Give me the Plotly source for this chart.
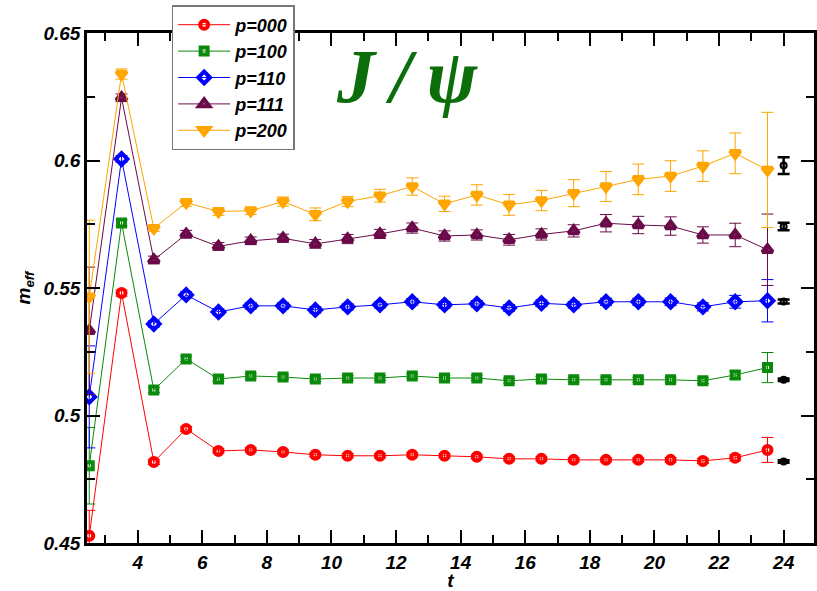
import plotly.graph_objects as go

# Effective mass of J/psi versus Euclidean time for several momenta
t = [2.5, 3.5, 4.5, 5.5, 6.5, 7.5, 8.5, 9.5, 10.5, 11.5, 12.5,
     13.5, 14.5, 15.5, 16.5, 17.5, 18.5, 19.5, 20.5, 21.5, 22.5, 23.5]

m_000 = [0.4528, 0.5480, 0.4818, 0.4947, 0.4861, 0.4865, 0.4857, 0.4846, 0.4842, 0.4842, 0.4846,
         0.4842, 0.4838, 0.4830, 0.4830, 0.4826, 0.4826, 0.4826, 0.4826, 0.4822, 0.4834, 0.4865]
e_000 = [0.0100, 0.0012, 0.0010, 0.0010, 0.0008, 0.0008, 0.0008, 0.0008, 0.0008, 0.0008, 0.0008,
         0.0008, 0.0008, 0.0008, 0.0008, 0.0008, 0.0008, 0.0008, 0.0009, 0.0010, 0.0012, 0.0049]

m_100 = [0.4803, 0.5755, 0.5100, 0.5222, 0.5143, 0.5155, 0.5151, 0.5143, 0.5147, 0.5147, 0.5155,
         0.5147, 0.5147, 0.5136, 0.5143, 0.5140, 0.5140, 0.5140, 0.5140, 0.5136, 0.5159, 0.5188]
e_100 = [0.0150, 0.0012, 0.0010, 0.0010, 0.0009, 0.0009, 0.0009, 0.0009, 0.0009, 0.0009, 0.0009,
         0.0009, 0.0009, 0.0009, 0.0009, 0.0009, 0.0010, 0.0010, 0.0010, 0.0011, 0.0015, 0.0059]

m_110 = [0.5073, 0.6006, 0.5359, 0.5473, 0.5406, 0.5430, 0.5430, 0.5414, 0.5426, 0.5434, 0.5446,
         0.5434, 0.5438, 0.5422, 0.5440, 0.5434, 0.5446, 0.5446, 0.5446, 0.5426, 0.5446, 0.5450]
e_110 = [0.0200, 0.0013, 0.0012, 0.0012, 0.0012, 0.0012, 0.0012, 0.0012, 0.0012, 0.0012, 0.0013,
         0.0013, 0.0013, 0.0013, 0.0013, 0.0013, 0.0014, 0.0014, 0.0015, 0.0016, 0.0025, 0.0083]

m_111 = [0.5332, 0.6246, 0.5610, 0.5711, 0.5663, 0.5685, 0.5695, 0.5673, 0.5692, 0.5712, 0.5735,
         0.5704, 0.5708, 0.5689, 0.5710, 0.5724, 0.5754, 0.5747, 0.5743, 0.5708, 0.5708, 0.5650]
e_111 = [0.0250, 0.0015, 0.0015, 0.0015, 0.0015, 0.0015, 0.0016, 0.0017, 0.0018, 0.0018, 0.0020,
         0.0020, 0.0020, 0.0021, 0.0022, 0.0024, 0.0034, 0.0034, 0.0036, 0.0032, 0.0046, 0.0140]

m_200 = [0.5466, 0.6339, 0.5734, 0.5835, 0.5800, 0.5803, 0.5839, 0.5789, 0.5839, 0.5862, 0.5898,
         0.5830, 0.5865, 0.5826, 0.5843, 0.5872, 0.5898, 0.5926, 0.5939, 0.5978, 0.6028, 0.5963]
e_200 = [0.0300, 0.0020, 0.0012, 0.0015, 0.0015, 0.0015, 0.0018, 0.0025, 0.0020, 0.0025, 0.0034,
         0.0030, 0.0040, 0.0041, 0.0040, 0.0053, 0.0059, 0.0060, 0.0060, 0.0060, 0.0080, 0.0226]

# Fitted plateau masses, shown at the right edge
fit_t = [24.0, 24.0, 24.0, 24.0, 24.0]
fit_m = [0.4820, 0.5140, 0.5447, 0.5741, 0.5980]
fit_e = [0.0005, 0.0005, 0.0008, 0.0015, 0.0033]

series = [
    ("p=000", m_000, e_000, "#ff0000", "circle-open", 8),
    ("p=100", m_100, e_100, "#0a8a0a", "square-open", 7),
    ("p=110", m_110, e_110, "#0000ff", "diamond-open", 9),
    ("p=111", m_111, e_111, "#6a0a48", "triangle-up-open", 9),
    ("p=200", m_200, e_200, "#ffa500", "triangle-down-open", 9),
]

fig = go.Figure()
for name, m, e, col, sym, sz in series:
    fig.add_trace(go.Scatter(
        x=t, y=m, name=name, mode="lines+markers",
        line=dict(color=col, width=1),
        marker=dict(symbol=sym, size=sz, color=col, line=dict(color=col, width=4)),
        error_y=dict(type="data", array=e, color=col, thickness=1, width=6),
    ))

fig.add_trace(go.Scatter(
    x=fit_t, y=fit_m, mode="markers", showlegend=False,
    marker=dict(symbol="circle-open", size=6, color="black", line=dict(color="black", width=2)),
    error_y=dict(type="data", array=fit_e, color="black", thickness=2.5, width=6),
))

lab_font = dict(family="Liberation Sans, Arial, sans-serif", size=19, color="black",
                weight="bold", style="italic")
leg_font = dict(lab_font, size=18)

fig.update_layout(
    width=817, height=591,
    margin=dict(l=87, r=0, t=33, b=48),
    paper_bgcolor="white", plot_bgcolor="white",
    showlegend=True,
    legend=dict(x=(172 - 87) / 730, y=(543 - 5) / 510, xanchor="left", yanchor="top",
                bgcolor="white", bordercolor="#777777", borderwidth=1.5,
                font=leg_font, tracegroupgap=0, itemwidth=52),
    annotations=[dict(
        text="J\u2009/\u2009\u03c8", x=(409 - 87) / 730, y=(543 - 76) / 510,
        xref="paper", yref="paper", xanchor="center", yanchor="middle", showarrow=False,
        font=dict(family="Liberation Serif, Times New Roman, serif", size=76,
                  color="#0b6e0b", weight="bold", style="italic"),
    )],
)

fig.update_xaxes(
    range=[2.43, 24.94], showgrid=False, zeroline=False,
    showline=True, linecolor="black", linewidth=2.5, mirror="ticks",
    ticks="inside", ticklen=13, tickwidth=2, tickcolor="black",
    tick0=0, dtick=2, tickfont=lab_font,
    minor=dict(ticks="inside", ticklen=8, tickwidth=2, tickcolor="black", dtick=1, showgrid=False),
    title=dict(text="t", font=lab_font, standoff=2),
)
fig.update_yaxes(
    range=[0.45, 0.65], showgrid=False, zeroline=False,
    showline=True, linecolor="black", linewidth=2.5, mirror="ticks",
    ticks="inside", ticklen=13, tickwidth=2, tickcolor="black",
    tick0=0.45, dtick=0.05, tickfont=lab_font,
    minor=dict(ticks="inside", ticklen=8, tickwidth=2, tickcolor="black", dtick=0.025, showgrid=False),
    title=dict(text="m<sub>eff</sub>", font=lab_font, standoff=8),
)

fig.write_html("out.html")
